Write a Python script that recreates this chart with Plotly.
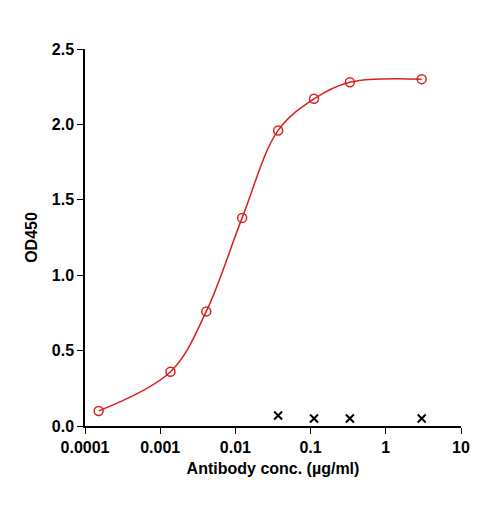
import plotly.graph_objects as go

conc = [0.000152, 0.00137, 0.0041, 0.0123, 0.037, 0.111, 0.333, 3.0]
od_sample = [0.10, 0.36, 0.76, 1.38, 1.96, 2.17, 2.28, 2.30]
conc_ctrl = [0.037, 0.111, 0.333, 3.0]
od_ctrl = [0.07, 0.05, 0.05, 0.05]
xticks = [0.0001, 0.001, 0.01, 0.1, 1, 10]
xlabels = ["0.0001", "0.001", "0.01", "0.1", "1", "10"]

red = "#d62020"
fig = go.Figure()
fig.add_trace(go.Scatter(x=conc, y=od_sample, mode="lines", line=dict(color=red, width=1.5, shape="spline", smoothing=1.0)))
fig.add_trace(go.Scatter(x=conc, y=od_sample, mode="markers",
                         marker=dict(symbol="circle-open", size=9, color=red, line=dict(width=1.5))))
fig.add_trace(go.Scatter(x=conc_ctrl, y=od_ctrl, mode="markers",
                         marker=dict(symbol="x-thin-open", size=8, color="black", line=dict(width=2, color="black"))))
font = dict(family="Liberation Sans, Arial", size=16, color="black")
fig.update_layout(
    width=485, height=508, showlegend=False, plot_bgcolor="white", paper_bgcolor="white",
    margin=dict(l=77, r=32, t=41, b=90),
    font=font,
    xaxis=dict(type="log", range=[-4, 1], tickvals=xticks, ticktext=["<b>%s</b>" % t for t in xlabels],
               showline=True, linecolor="black", linewidth=1.5, ticks="outside", ticklen=6,
               tickcolor="black", showgrid=False, zeroline=False, automargin=False,
               title=dict(text="<b>Antibody conc. (µg/ml)</b>", font=font, standoff=8)),
    yaxis=dict(range=[0, 2.5], tickvals=[0, 0.5, 1, 1.5, 2, 2.5],
               ticktext=["<b>%.1f</b>" % v for v in [0, 0.5, 1, 1.5, 2, 2.5]],
               showline=True, linecolor="black", linewidth=1.5, ticks="outside", ticklen=6,
               tickcolor="black", showgrid=False, zeroline=False, automargin=False,
               title=dict(text="<b>OD450</b>", font=font, standoff=10)),
)
fig.write_html("out.html")
